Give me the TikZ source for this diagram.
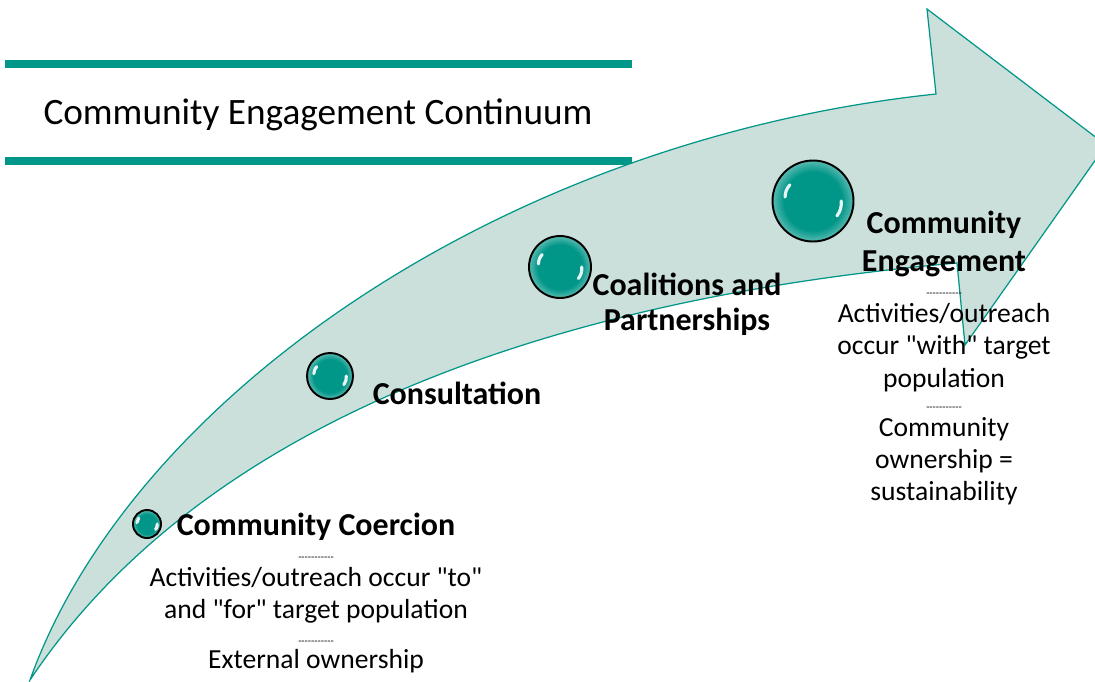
\documentclass[tikz,border=0pt]{standalone}
\usepackage{fontspec}
\setmainfont{Carlito}[Ligatures=TeXOff]
\usetikzlibrary{positioning,calc}

\definecolor{seateal}{RGB}{0,150,136}
\definecolor{arrowfill}{RGB}{204,224,219}
\pgfdeclareradialshading{spheregloss}{\pgfpoint{0bp}{0bp}}{color(0bp)=(seateal); color(18bp)=(seateal); color(25bp)=(seateal!65!white); color(50bp)=(seateal!65!white)}

\newcommand{\sepdash}{{\fontsize{6}{6}\selectfont -----------}}
\newcommand{\gloss}[1]{%
  \draw[white, line width=1.8pt, line cap=round, opacity=.9] ($(#1.center)!0.68!(#1.172)$) to[bend left=20] ($(#1.center)!0.68!(#1.145)$);
  \draw[white, line width=1.8pt, line cap=round, opacity=.9] ($(#1.center)!0.68!(#1.0)$) to[bend left=20] ($(#1.center)!0.68!(#1.-32)$);}

\begin{document}
\begin{tikzpicture}[x=0.02cm, y=-0.02cm,
    titlebar/.style={seateal, line width=4pt},
    arrowbody/.style={fill=arrowfill, draw=seateal, line width=0.7pt, line join=miter},
    sphere/.style={circle, draw=black, line width=1.1pt, shading=spheregloss, inner sep=0pt},
    lbl/.style={font=\fontsize{18.2}{22}\selectfont\bfseries, align=center, inner sep=0pt},
    desc/.style={font=\fontsize{15.7}{18.2}\selectfont, align=center, inner sep=0pt}]
    \useasboundingbox (0,0) rectangle (1095,681);
    \clip (0,0) rectangle (1095,681);

    % title
    \draw[titlebar] (5,64) -- (632,64);
    \draw[titlebar] (5,161) -- (632,161);
    \node[font=\fontsize{21.2}{26}\selectfont] (title) at (318,115) {Community Engagement Continuum};

    % the big arrow
    \draw[arrowbody] (30,680) .. controls (130,400) and (500,140) .. (936,94)
        -- (927,9) -- (1106,145) -- (965,345) -- (957,263)
        .. controls (650,290) and (230,380) .. (30,680) -- cycle;

    % spheres
    \node[sphere, minimum size=0.56cm] (s1) at (147,524) {};
    \node[sphere, minimum size=0.92cm] (s2) at (330,376) {};
    \node[sphere, minimum size=1.24cm] (s3) at (560,267) {};
    \node[sphere, minimum size=1.62cm] (s4) at (813,201) {};
    \gloss{s1}
    \gloss{s2}
    \gloss{s3}
    \gloss{s4}

    % stages
    \node[lbl] (coercion) at (316,527) {Community Coercion};
    \node[desc, below=9pt of coercion] (coerciontxt) {\sepdash\\[-3.4pt]
        Activities/outreach occur "to"\\
        and "for" target population\\[-3.4pt]
        \sepdash\\[-4.4pt]
        External ownership};
    \node[lbl] (consult) at (457,393) {Consultation};
    \node[lbl, font=\fontsize{18.2}{20}\selectfont\bfseries] (coalition) at (687,304) {Coalitions and\\Partnerships};
    \node[lbl] (engage) at (944,244) {Community\\Engagement};
    \node[desc, below=8.5pt of engage] (engagetxt) {\sepdash\\[-3.4pt]
        Activities/outreach\\
        occur "with" target\\[0.5pt]
        population\\[-5pt]
        \sepdash\\[-3.4pt]
        Community\\
        ownership =\\
        sustainability};
\end{tikzpicture}
\end{document}
